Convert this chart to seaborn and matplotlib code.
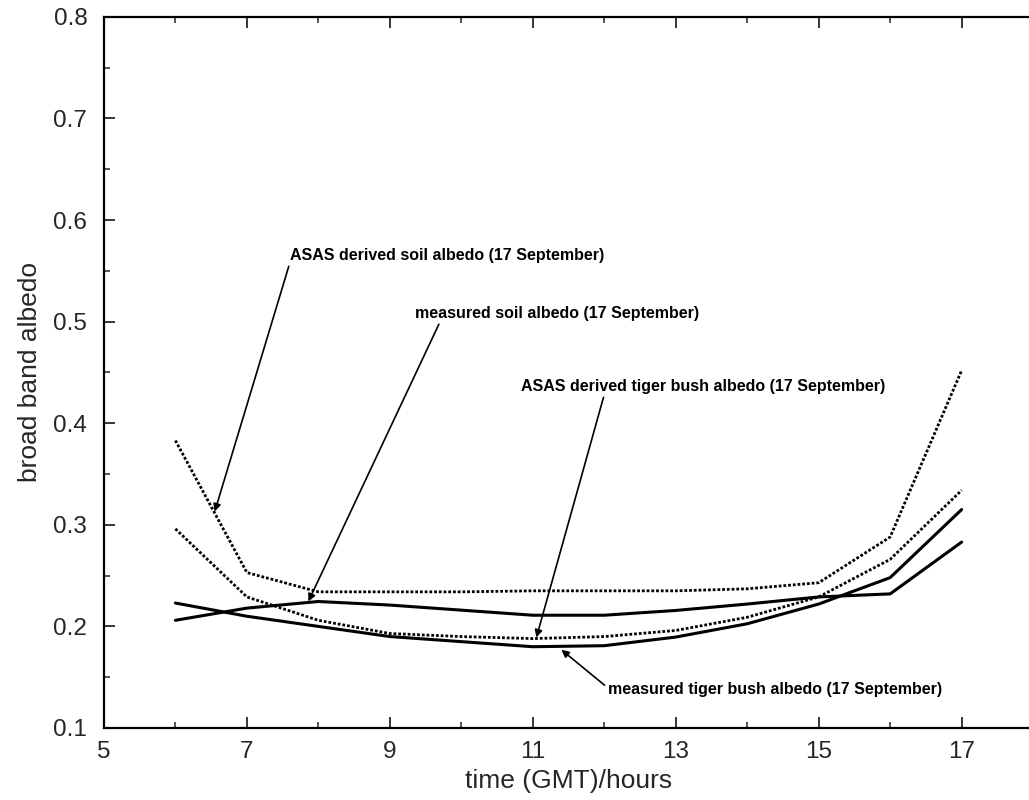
import matplotlib
matplotlib.use("Agg")
import matplotlib.pyplot as plt
import seaborn as sns
import pandas as pd
from matplotlib.ticker import MultipleLocator

# ---- data ----
hours = [6, 7, 8, 9, 10, 11, 12, 13, 14, 15, 16, 17]
asas_soil = [0.383, 0.253, 0.234, 0.234, 0.234, 0.235, 0.235, 0.235, 0.237, 0.243, 0.288, 0.452]
asas_tiger = [0.296, 0.229, 0.206, 0.193, 0.190, 0.188, 0.190, 0.196, 0.209, 0.229, 0.266, 0.334]
meas_soil = [0.206, 0.218, 0.2245, 0.221, 0.216, 0.211, 0.211, 0.2157, 0.222, 0.229, 0.232, 0.283]
meas_tiger = [0.223, 0.210, 0.200, 0.190, 0.185, 0.180, 0.181, 0.1895, 0.2026, 0.222, 0.248, 0.315]

series_names = [
    "ASAS derived soil albedo (17 September)",
    "ASAS derived tiger bush albedo (17 September)",
    "measured soil albedo (17 September)",
    "measured tiger bush albedo (17 September)",
]
x_ticks = [5, 7, 9, 11, 13, 15, 17]
y_ticks = [0.1, 0.2, 0.3, 0.4, 0.5, 0.6, 0.7, 0.8]
x_label = "time (GMT)/hours"
y_label = "broad band albedo"

sns.set_theme(style="ticks")
plt.rcParams["font.family"] = ["Liberation Sans", "DejaVu Sans"]

fig = plt.figure(figsize=(10.29, 8.0), dpi=100)
ax = fig.add_axes([0.101, 0.09, 0.903, 0.889])

values = [asas_soil, asas_tiger, meas_soil, meas_tiger]
dotted = (0, (1.0, 0.7))
styles = [dotted, dotted, "-", "-"]
widths = [2.0, 2.0, 2.2, 2.2]
for name, vals, ls, lw in zip(series_names, values, styles, widths):
    df = pd.DataFrame({"hour": hours, "albedo": vals})
    sns.lineplot(data=df, x="hour", y="albedo", ax=ax, color="black",
                 linestyle=ls, linewidth=lw, legend=False)

ax.set_xlim(5, 18)
ax.set_ylim(0.1, 0.8)
ax.set_xticks(x_ticks)
ax.set_yticks(y_ticks)
ax.xaxis.set_minor_locator(MultipleLocator(1))
ax.yaxis.set_minor_locator(MultipleLocator(0.05))
ax.set_yticklabels([f"{v:.1f}" for v in y_ticks])
ax.tick_params(axis="both", which="major", direction="in", length=8, width=1.3,
               labelsize=17.5, top=True, right=False)
ax.tick_params(axis="x", which="major", pad=9)
ax.tick_params(axis="y", which="major", pad=12)
ax.tick_params(axis="both", which="minor", direction="in", length=4.5, width=1.1,
               top=True, right=False)
for s in ["left", "bottom", "top"]:
    ax.spines[s].set_linewidth(1.6)
    ax.spines[s].set_color("black")
ax.spines["right"].set_visible(False)

ax.set_xlabel(x_label, fontsize=19, labelpad=5)
ax.set_ylabel(y_label, fontsize=19, labelpad=8)

arrow = dict(arrowstyle="-|>", color="black", lw=1.2, mutation_scale=11,
             shrinkA=0, shrinkB=0)
tfont = dict(fontsize=11.5, fontweight="bold", color="black")

ax.annotate(series_names[0], xy=(6.55, 0.313), xytext=(7.6, 0.565),
            ha="left", va="center", arrowprops=dict(arrow, relpos=(0, 0)), **tfont)
ax.annotate(series_names[2], xy=(7.86, 0.2245), xytext=(9.35, 0.508),
            ha="left", va="center", arrowprops=dict(arrow, relpos=(0.09, 0)), **tfont)
ax.annotate(series_names[1], xy=(11.05, 0.189), xytext=(10.83, 0.436),
            ha="left", va="center", arrowprops=dict(arrow, relpos=(0.23, 0)), **tfont)
ax.annotate(series_names[3], xy=(11.4, 0.177), xytext=(12.05, 0.138),
            ha="left", va="center", arrowprops=dict(arrow, relpos=(0, 0.6)), **tfont)

fig.savefig("out.png", dpi=100)
